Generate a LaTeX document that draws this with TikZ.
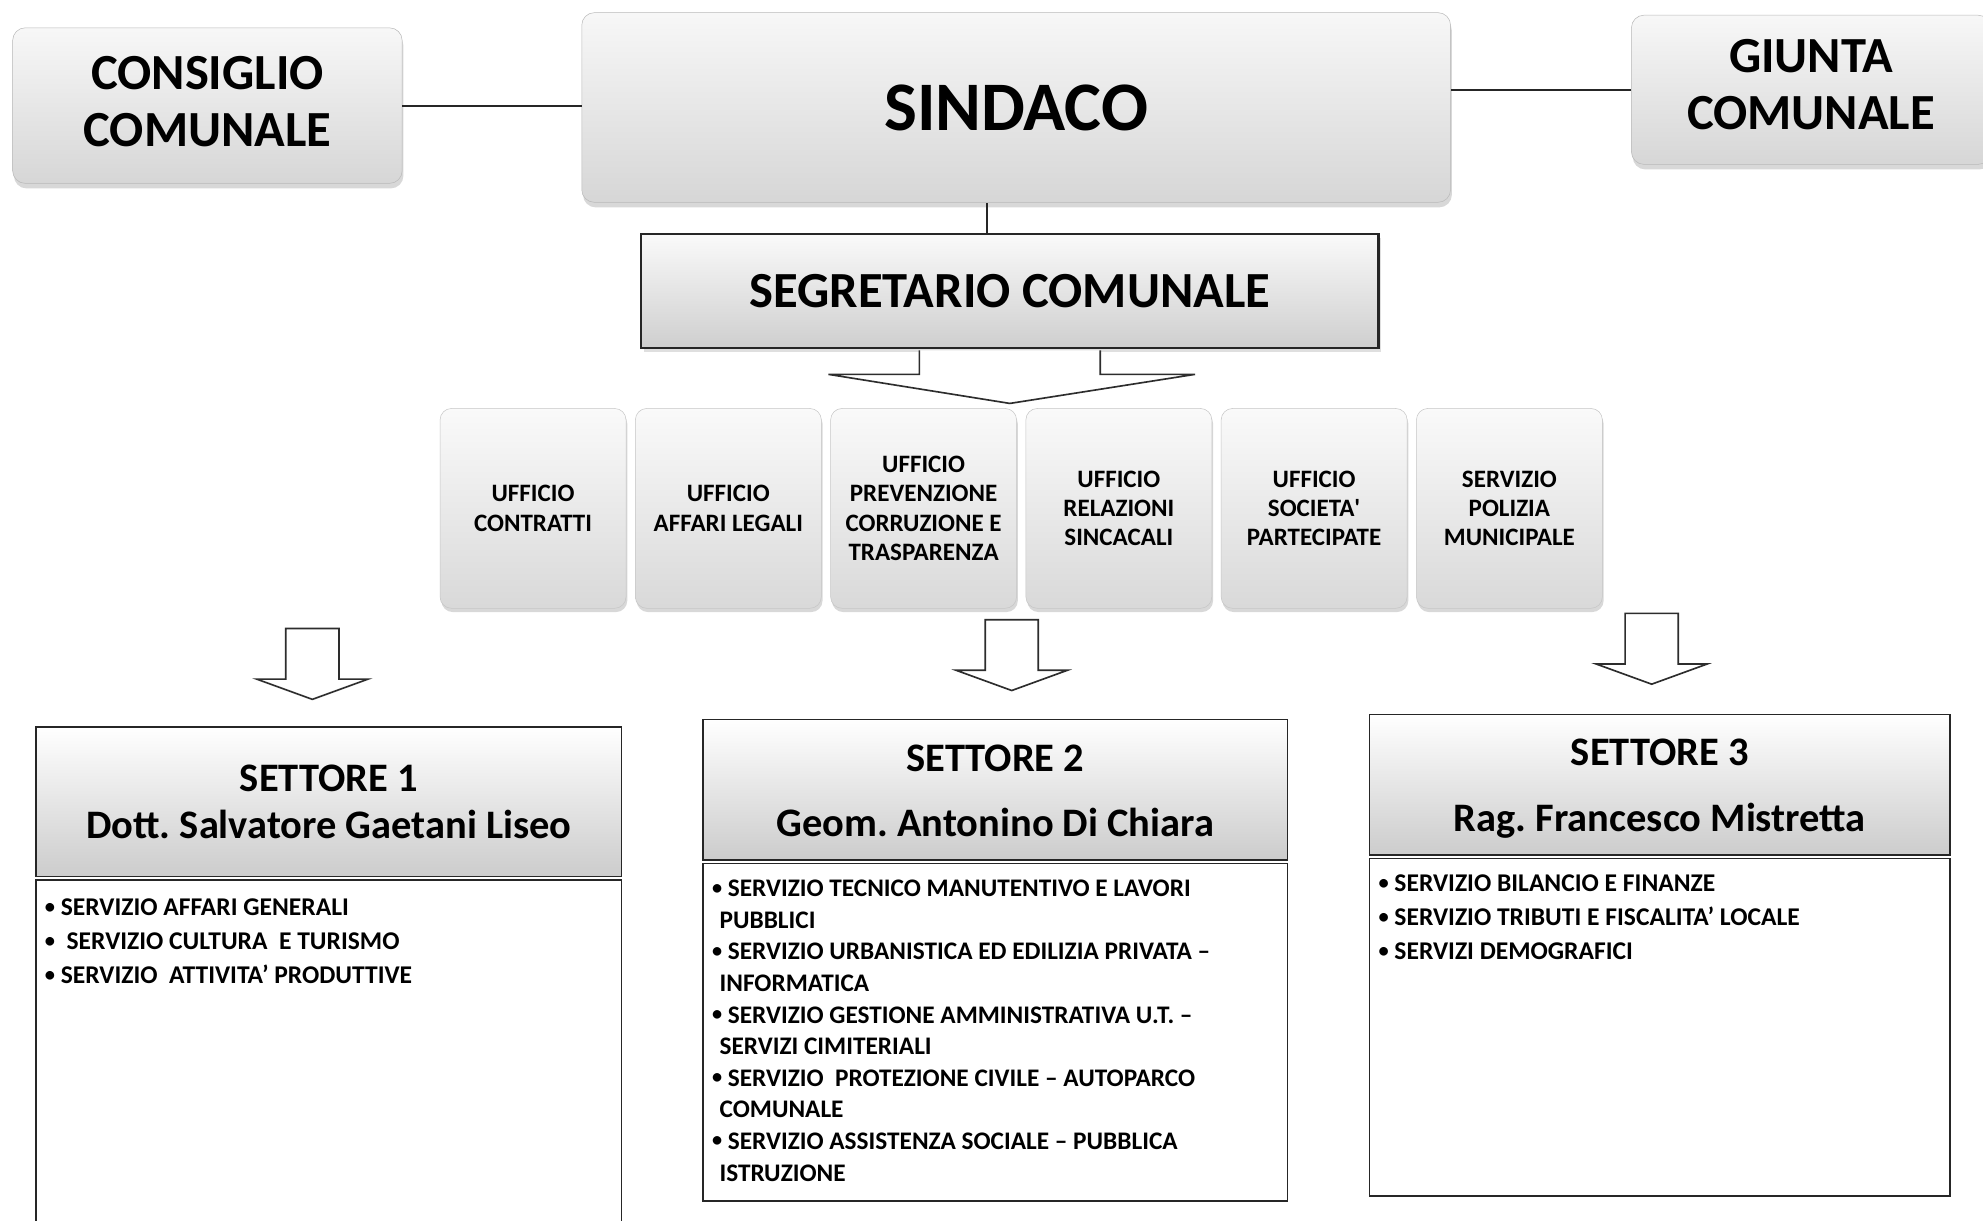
\documentclass[tikz,border=0pt]{standalone}
\usepackage{fontspec}
\setmainfont{Carlito}
\usetikzlibrary{positioning, calc, shadows}
\newcommand{\pallino}{\raisebox{0.1em}{\scalebox{0.8}{\textbullet}}\ }

\begin{document}
\frenchspacing
\begin{tikzpicture}[x=1pt, y=-1pt,
    topbox/.style={rectangle, rounded corners=10pt, draw=gray!55, top color=gray!6, bottom color=gray!32, drop shadow={shadow xshift=1pt, shadow yshift=-4pt, opacity=0.3}, align=center, inner sep=0pt, font=\fontsize{40}{45}\selectfont\bfseries},
    segbox/.style={rectangle, draw=gray!30!black, line width=2pt, top color=gray!4, bottom color=gray!38, drop shadow={shadow xshift=2pt, shadow yshift=-3pt, opacity=0.25}, inner sep=0pt, font=\fontsize{40}{45}\selectfont\bfseries},
    uffbox/.style={rectangle, rounded corners=9pt, draw=gray!45, top color=gray!4, bottom color=gray!30, drop shadow={shadow xshift=1pt, shadow yshift=-3pt, opacity=0.3}, minimum width=147pt, minimum height=158pt, align=center, inner sep=0pt, font=\fontsize{19.8}{23}\selectfont\bfseries},
    headbox/.style={rectangle, draw=black!85, line width=1.3pt, top color=white, bottom color=gray!40, align=center, inner sep=0pt, font=\fontsize{32}{37}\selectfont\bfseries},
    listbox/.style={rectangle, draw=black!85, line width=1.3pt, fill=white, inner xsep=7pt, inner ysep=13pt, font=\fontsize{20.2}{27}\selectfont\bfseries},
    hollow/.style={draw=gray!35!black, line width=1.3pt, fill=white, line join=miter},
    link/.style={draw=gray!30!black, line width=1.6pt}
]
    \useasboundingbox (0,0) rectangle (1568,965);
    \fill[white] (0,0) rectangle (1568,965);
    \clip (0,0) rectangle (1568,965);

    % vertici
    \node[topbox, minimum width=308pt, minimum height=123pt] (cons) at (164, 83.5) {CONSIGLIO\\COMUNALE\rule[-6pt]{0pt}{6pt}};
    \node[topbox, minimum width=687pt, minimum height=150pt, font=\fontsize{55}{60}\selectfont\bfseries] (sind) at (803.5, 85) {SINDACO};
    \node[topbox, minimum width=284pt, minimum height=118pt] (giun) at (1432, 71) {GIUNTA\\COMUNALE\rule[-9pt]{0pt}{9pt}};

    \draw[link] (cons.east) -- (cons.east -| sind.west);
    \draw[link] (giun.west) -- (giun.west -| sind.east);

    \node[segbox, minimum width=583pt, minimum height=90pt] (segr) at (798.5, 230) {SEGRETARIO COMUNALE};
    \draw[link] ([xshift=-18pt]segr.north) -- ([xshift=-18pt]segr.north |- sind.south);

    \draw[hollow] ($(segr.south)+(-71.5,1)$) -- ++(0,19) -- ++(-72,0) -- ($(segr.south)+(0,43)$)
        -- ($(segr.south)+(146.5,20)$) -- ++(-75,0) -- ++(0,-19);

    % uffici
    \node[uffbox] (uff1) at (421.5, 402) {UFFICIO\\CONTRATTI};
    \node[uffbox, right=7pt of uff1] (uff2) {UFFICIO\\AFFARI LEGALI};
    \node[uffbox, right=7pt of uff2] (uff3) {UFFICIO\\PREVENZIONE\\CORRUZIONE E\\TRASPARENZA};
    \node[uffbox, right=7pt of uff3] (uff4) {UFFICIO\\RELAZIONI\\SINCACALI};
    \node[uffbox, right=7pt of uff4] (uff5) {UFFICIO\\SOCIETA\textquotesingle\\PARTECIPATE};
    \node[uffbox, right=7pt of uff5] (uff6) {SERVIZIO\\POLIZIA\\MUNICIPALE};

    % frecce verso i settori
    \foreach \x/\y in {247/497, 800/490, 1306/485}
        \draw[hollow] ({\x-21},\y) -- ({\x+21},\y) -- ({\x+21},{\y+40}) -- ({\x+44},{\y+40})
            -- (\x,{\y+56}) -- ({\x-44},{\y+40}) -- ({\x-21},{\y+40}) -- cycle;

    % settori
    \node[headbox, minimum width=463pt, minimum height=118pt] (set1) at (260, 634) {SETTORE 1\\Dott. Salvatore Gaetani Liseo};
    \node[headbox, minimum width=462pt, minimum height=111pt] (set2) at (787, 624.5) {\rule{0pt}{23pt}SETTORE 2\\[14pt]Geom. Antonino Di Chiara};
    \node[headbox, minimum width=459pt, minimum height=111pt] (set3) at (1312.5, 620.5) {\rule{0pt}{27pt}SETTORE 3\\[15pt]Rag. Francesco Mistretta};

    \node[listbox, below=1.5pt of set1] (set1_list) {\parbox[t][254pt][t]{449pt}{\raggedright
        \vspace*{2pt}\pallino SERVIZIO AFFARI GENERALI\\
        \pallino\ SERVIZIO CULTURA \ E TURISMO\\
        \pallino SERVIZIO \ ATTIVITA’ PRODUTTIVE}};
    \node[listbox, below=1.5pt of set2] (set2_list) {\parbox[t][241pt][t]{448pt}{\raggedright\fontsize{20}{25}\selectfont
        \pallino SERVIZIO TECNICO MANUTENTIVO E LAVORI\\
        \hspace*{6pt}PUBBLICI\\
        \pallino SERVIZIO URBANISTICA ED EDILIZIA PRIVATA --\\
        \hspace*{6pt}INFORMATICA\\
        \pallino SERVIZIO GESTIONE AMMINISTRATIVA U.T. --\\
        \hspace*{6pt}SERVIZI CIMITERIALI\\
        \pallino SERVIZIO \ PROTEZIONE CIVILE -- AUTOPARCO\\
        \hspace*{6pt}COMUNALE\\
        \pallino SERVIZIO ASSISTENZA SOCIALE -- PUBBLICA\\
        \hspace*{6pt}ISTRUZIONE}};
    \node[listbox, below=1.5pt of set3] (set3_list) {\parbox[t][241pt][t]{445pt}{\raggedright
        \pallino SERVIZIO BILANCIO E FINANZE\\
        \pallino SERVIZIO TRIBUTI E FISCALITA’ LOCALE\\
        \pallino SERVIZI DEMOGRAFICI}};
\end{tikzpicture}
\end{document}
